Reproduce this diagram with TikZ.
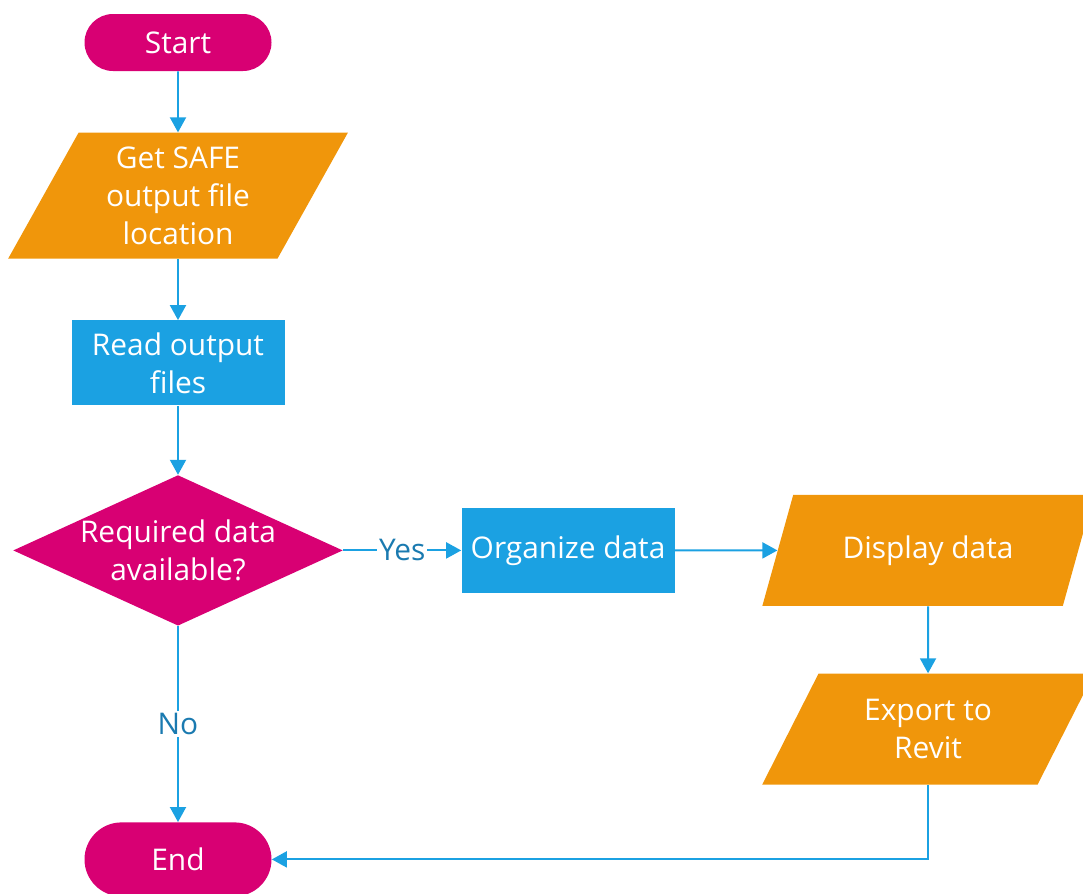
\documentclass[tikz,border=0pt]{standalone}
\usepackage{fontspec}
\setmainfont{Open Sans}
\usepackage{tikz}
\usetikzlibrary{shapes.geometric,arrows.meta,positioning}
\definecolor{rosa}{HTML}{D80073}
\definecolor{naranja}{HTML}{F0960B}
\definecolor{celeste}{HTML}{1BA1E2}
\definecolor{azultexto}{HTML}{1A7AB0}
\newcommand{\fuente}{\fontsize{17}{21.6}\selectfont}
\tikzset{
  terminal/.style={rectangle, fill=rosa, text=white, rounded corners=0.57cm,
                   minimum width=3.74cm, minimum height=1.14cm, font=\fuente},
  entrada/.style={trapezium, trapezium left angle=63.3, trapezium right angle=116.7,
                  trapezium stretches=true, fill=naranja, text=white, align=center,
                  minimum width=6.8cm, minimum height=2.52cm, font=\fuente},
  bloque/.style={rectangle, fill=celeste, text=white, align=center,
                 minimum width=4.26cm, minimum height=1.70cm, font=\fuente},
  decision/.style={diamond, aspect=2.19, fill=rosa, text=white, align=center,
                   inner sep=0pt, minimum width=6.58cm, minimum height=3.0cm, font=\fuente},
  flecha/.style={-{Triangle[length=0.3cm, width=0.32cm]}, draw=celeste, line width=1.1pt},
  etiqueta/.style={fill=white, text=azultexto, inner sep=1pt, font=\fuente}
}
\begin{document}
\begin{tikzpicture}[node distance=1.22cm and 2.36cm]
  \useasboundingbox (0,0) rectangle (21.66,-17.86);
  % Columna principal
  \node[terminal] (inicio) at (3.56,-0.85) {Start};
  \node[entrada, below=1.22cm of inicio] (ubic) {Get SAFE\\output file\\location};
  \node[bloque, below=1.22cm of ubic] (leer) {Read output\\files};
  \node[decision, below=1.38cm of leer] (disp) {Required data\\available?};
  \node[terminal, minimum height=1.48cm, rounded corners=0.74cm,
        below=3.92cm of disp] (fin) {End};

  % Fila derecha
  \node[bloque, right=of disp] (org) {Organize data};
  \node[entrada, minimum width=6.64cm, minimum height=2.22cm,
        right=2.05cm of org] (mostrar) {Display data};
  \node[entrada, minimum width=6.64cm, minimum height=2.22cm,
        below=1.34cm of mostrar] (export) {Export to\\Revit};

  \draw[flecha](inicio)--(ubic);\draw[flecha](ubic)--(leer);\draw[flecha](leer)--(disp);
  \draw[flecha](disp)--(org) node[midway, etiqueta]{Yes};
  \draw[flecha](org)--(mostrar);\draw[flecha](mostrar)--(export);
  \draw[flecha](disp)--(fin) node[midway, etiqueta]{No};
  \draw[flecha](export.south) |- (fin.east);
\end{tikzpicture}
\end{document}
